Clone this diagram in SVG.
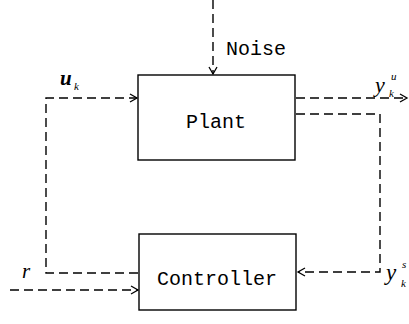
<svg xmlns="http://www.w3.org/2000/svg" width="409" height="324" viewBox="0 0 409 324">
<defs>
<marker id="arr" markerWidth="10" markerHeight="10" refX="8" refY="5" orient="auto" markerUnits="userSpaceOnUse">
<path d="M1,1 L8,5 L1,9" fill="none" stroke="#000" stroke-width="1.3"/>
</marker>
<style>
.box{fill:#fff;stroke:#000;stroke-width:1.4}
.lbl{font-family:"Liberation Mono","DejaVu Sans Mono",monospace;font-size:20px;fill:#000}
.dash{fill:none;stroke:#000;stroke-width:1.4;stroke-dasharray:9 5}
.math{font-family:"Liberation Serif","DejaVu Serif",serif;font-style:italic;fill:#000}
</style>
</defs>
<rect width="409" height="324" fill="#fff"/>
<g id="connectors">
<path class="dash" d="M213,0 V74" marker-end="url(#arr)"/>
<path class="dash" d="M138,273 H46 V98 H137" marker-end="url(#arr)"/>
<path class="dash" d="M10,290 H138" marker-end="url(#arr)"/>
<path class="dash" d="M296,98 H407" marker-end="url(#arr)"/>
<path class="dash" d="M296,114 H380 V272 H298" marker-end="url(#arr)"/>
</g>
<g id="plant">
<rect class="box" x="138" y="75" width="157" height="85"/>
<text class="lbl" x="216" y="128" text-anchor="middle">Plant</text>
</g>
<g id="controller">
<rect class="box" x="139" y="234" width="157" height="76"/>
<text class="lbl" x="217" y="285" text-anchor="middle">Controller</text>
</g>
<g id="labels">
<text class="lbl" x="226" y="55">Noise</text>
<text class="math" x="60" y="85" font-size="21" font-weight="bold">u</text>
<text class="math" x="74" y="90" font-size="11">k</text>
<text class="math" x="375" y="92" font-size="22">y</text>
<text class="math" x="389" y="97" font-size="11">k</text>
<text class="math" x="391" y="80" font-size="11">u</text>
<text class="math" x="386" y="280" font-size="23">y</text>
<text class="math" x="401" y="287" font-size="11">k</text>
<text class="math" x="402" y="268" font-size="11">s</text>
<text class="math" x="22" y="278" font-size="21">r</text>
</g>
</svg>
